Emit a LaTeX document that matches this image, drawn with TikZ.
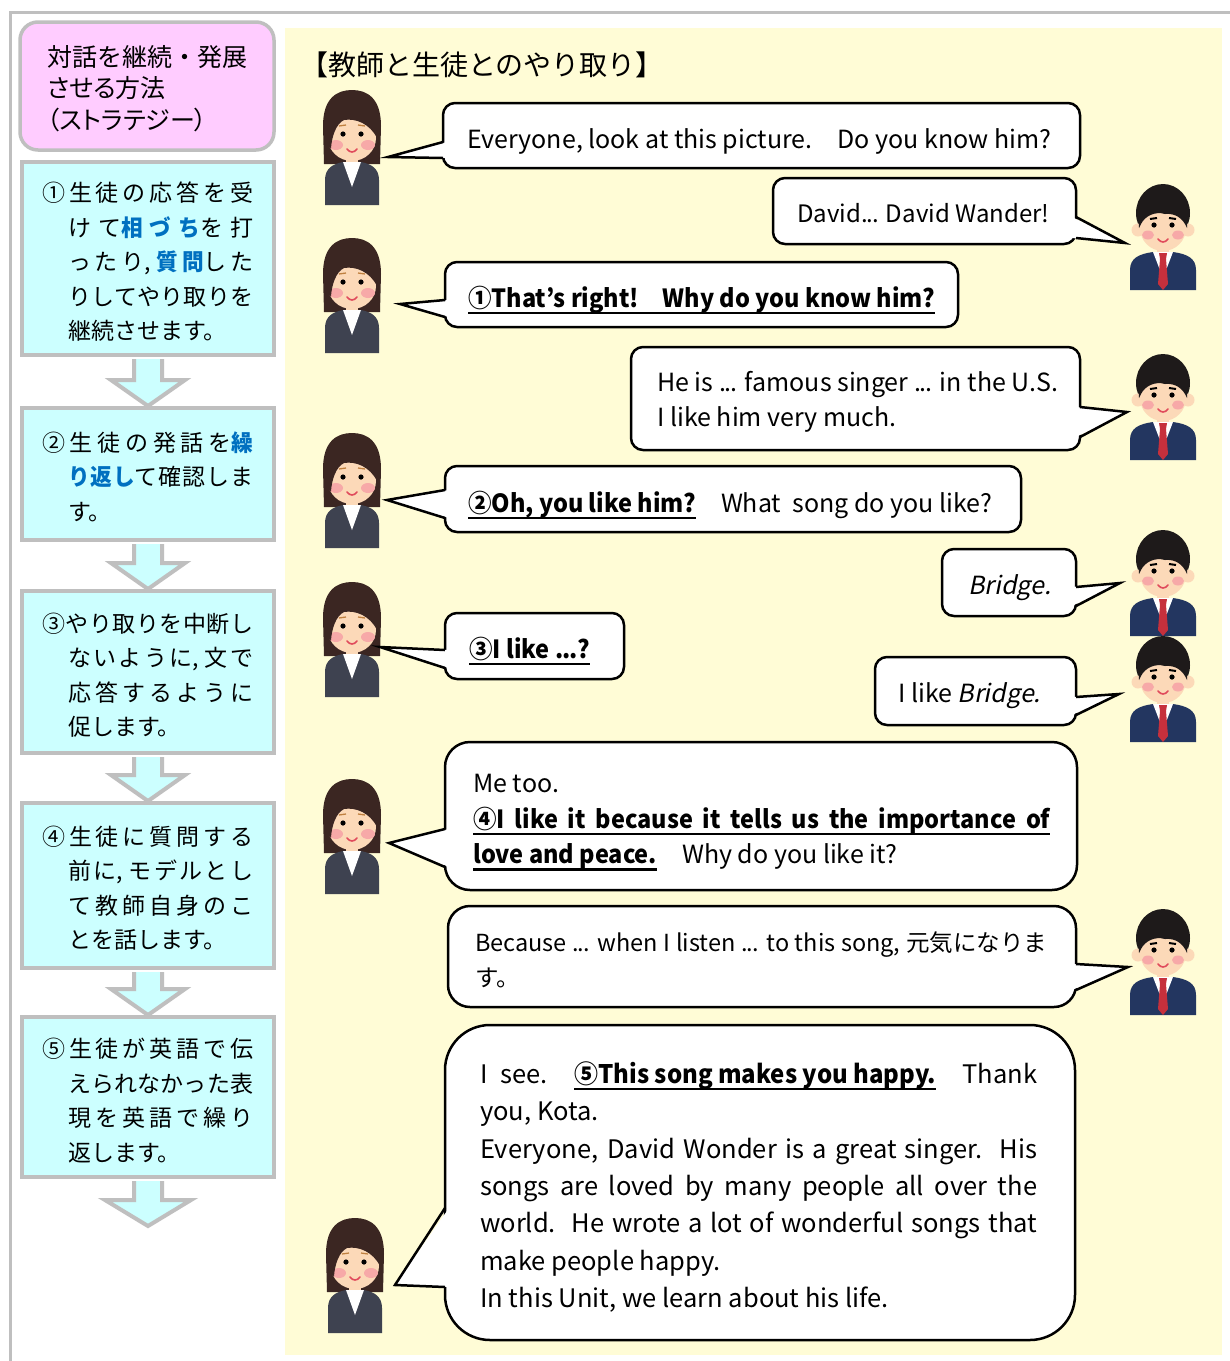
\documentclass[tikz,border=0pt]{standalone}
\usepackage{fontspec}
\setmainfont{Noto Sans CJK JP}[BoldFeatures={FakeStretch=0.94}]
\newfontfamily\headfont{Noto Sans CJK JP}[RawFeature=+palt]
\newfontfamily\slantfont{Noto Sans CJK JP}[FakeSlant=0.2]
\usepackage{xcolor}
\usetikzlibrary{calc,fit}

\definecolor{framegray}{HTML}{BFBFBF}
\definecolor{headpink}{HTML}{FFCCFF}
\definecolor{stepcyan}{HTML}{CCFFFF}
\definecolor{keyblue}{HTML}{0070C0}
\definecolor{paleyellow}{HTML}{FFFCD6}
\definecolor{skin}{HTML}{FCD9B8}
\definecolor{cheek}{HTML}{F7A9A8}
\definecolor{hairbrown}{HTML}{3B2622}
\definecolor{hairblack}{HTML}{1E1A1A}
\definecolor{suitgray}{HTML}{3E4250}
\definecolor{suitnavy}{HTML}{233660}
\definecolor{tiered}{HTML}{C6303C}
\definecolor{lipred}{HTML}{E04B5C}

\newsavebox{\ulbox}
\newcommand{\uln}[1]{\sbox{\ulbox}{#1}\rlap{\rule[-7pt]{\wd\ulbox}{2.2pt}}\usebox{\ulbox}}
\newcommand{\keyw}[1]{\textcolor{keyblue}{\bfseries #1}}
\newcommand{\tdots}{.\kern-1.2pt.\kern-1.2pt.}
\newcommand{\jajust}{\XeTeXlinebreaklocale "ja"\XeTeXlinebreakskip=0pt plus 10pt\relax}
\newcommand{\saytail}[4]{%
  \fill[white] ($(#1)+(#4)$) -- (#3) -- ($(#2)+(#4)$) -- cycle;
  \draw[tailline] (#1) -- (#3) -- (#2);}
\newcommand{\flowarrow}[3]{%
  \filldraw[flowarr] ($(#1)+(-14,2)$) -- ($(#2)+(-14,-26)$) -- ($(#2)+(-#3,-26)$) -- (#2)
    -- ($(#2)+(#3,-26)$) -- ($(#2)+(14,-26)$) -- ($(#1)+(14,2)$);}

\begin{document}
\begin{tikzpicture}[
  x=1pt, y=-1pt,
  frameline/.style={draw=framegray, line width=3pt},
  headbox/.style={draw=framegray, fill=headpink, line width=3.5pt, rounded corners=18pt, inner sep=0pt},
  stepbox/.style={draw=framegray, fill=stepcyan, line width=4pt, inner sep=0pt},
  flowarr/.style={draw=framegray, fill=stepcyan, line width=4pt, line join=miter},
  headtext/.style={anchor=west, align=left, inner sep=0pt, font=\fontsize{25}{31.5}\selectfont},
  steptext/.style={anchor=west, text width=211pt, align=justify, inner sep=0pt, font=\fontsize{23}{34.5}\selectfont\jajust},
  bubble/.style={draw=black, fill=white, line width=2.5pt, rounded corners=12pt, inner sep=0pt},
  tailline/.style={draw=black, line width=2.5pt, line join=miter},
  say/.style={anchor=west, align=left, inner sep=0pt, font=\fontsize{25}{35.5}\selectfont},
  teacher/.pic={
    \fill[hairbrown] (-28,24) -- (-29,-14) .. controls (-29,-42) and (-15,-50) .. (0,-50)
      .. controls (15,-50) and (29,-42) .. (29,-14) -- (28,24) -- cycle;
    \fill[skin] (-6,12) rectangle (6,26);
    \fill[suitgray] (-27,65) -- (-27,40) .. controls (-27,29) and (-20,24) .. (-9,22) -- (9,22)
      .. controls (20,24) and (27,29) .. (27,40) -- (27,65) -- cycle;
    \fill[white] (-9,22) -- (0,47) -- (9,22) -- cycle;
    \fill[skin] (0,-2) ellipse [x radius=24, y radius=23];
    \fill[cheek] (-16,5) ellipse [x radius=7, y radius=5];
    \fill[cheek] (16,5) ellipse [x radius=7, y radius=5];
    \fill[hairbrown] (-25,6) .. controls (-28,-30) and (-4,-38) .. (12,-32) .. controls (24,-27) and (27,-14) .. (25,-2)
      .. controls (18,-16) and (4,-22) .. (-8,-20) .. controls (-16,-16) and (-20,-4) .. (-21,8) -- cycle;
    \draw[brown, line width=1.3pt] (-13,-14) -- (-6,-15) (6,-15) -- (13,-14);
    \fill (-9,-6) circle (2.6);
    \fill (9,-6) circle (2.6);
    \draw[lipred, line width=1.6pt, line cap=round] (-5,9) .. controls (-2,13) and (2,13) .. (5,9);
  },
  student/.pic={
    \fill[hairblack] (0,-15) ellipse [x radius=27, y radius=29];
    \fill[skin] (-25,2) circle (6.5);
    \fill[skin] (25,2) circle (6.5);
    \fill[skin] (-6,14) rectangle (6,28);
    \fill[suitnavy] (-33,62) -- (-33,42) .. controls (-33,30) and (-24,26) .. (-10,24) -- (10,24)
      .. controls (24,26) and (33,30) .. (33,42) -- (33,62) -- cycle;
    \fill[white] (-10,24) -- (0,50) -- (10,24) -- cycle;
    \fill[tiered] (-4,25) -- (4,25) -- (3,31) -- (-3,31) -- cycle;
    \fill[tiered] (-3,31) -- (3,31) -- (5,56) -- (0,62) -- (-5,56) -- cycle;
    \fill[skin] (0,0) ellipse [x radius=23, y radius=23];
    \fill[cheek] (-15,7) ellipse [x radius=6, y radius=4.5];
    \fill[cheek] (15,7) ellipse [x radius=6, y radius=4.5];
    \fill[hairblack] (-24,0) .. controls (-27,-36) and (27,-36) .. (24,0) .. controls (20,-10) and (12,-15) .. (2,-14)
      .. controls (-8,-17) and (-18,-12) .. (-22,-4) -- cycle;
    \draw[line width=2pt] (-13,-9) -- (-6,-10) (6,-10) -- (13,-9);
    \fill (-9,-3) circle (2.6);
    \fill (9,-3) circle (2.6);
    \draw[lipred, line width=1.6pt, line cap=round] (-5,11) .. controls (-2,15) and (2,15) .. (5,11);
  }
]
\useasboundingbox (0,0) rectangle (1230,1361);
\fill[white] (0,0) rectangle (1230,1361);
\fill[paleyellow] (285,28) rectangle (1222,1355);
\draw[frameline] (10,1361) -- (10,12) -- (1230,12);

\node[headbox, fit={(20,22) (274,150)}] (head) {};
\node[headtext] (headtxt) at (47,88.5) {対話を継続・発展\\{\headfont させる方法}\\{\headfont （ストラテジー）}};

\node[stepbox, fit={(22,162) (274,355)}] (step1) {};
\node[stepbox, fit={(22,408) (274,540)}] (step2) {};
\node[stepbox, fit={(22,591) (274,753)}] (step3) {};
\node[stepbox, fit={(22,803) (274,968)}] (step4) {};
\node[stepbox, fit={(22,1017) (274,1177)}] (step5) {};
\coordinate (stepend) at (148,1226);
\flowarrow{step1.south}{step2.north}{37}
\flowarrow{step2.south}{step3.north}{37}
\flowarrow{step3.south}{step4.north}{37}
\flowarrow{step4.south}{step5.north}{37}
\flowarrow{step5.south}{stepend}{43}

\node[steptext] (txt1) at (42,262) {\hangindent=26pt\hangafter=1\noindent
  ①生徒の応答を受\linebreak けて\keyw{相づち}を打\linebreak ったり, \keyw{質問}した\linebreak りしてやり取りを\linebreak 継続させます。\par};
\node[steptext] (txt2) at (42,476.5) {\hangindent=26pt\hangafter=1\noindent
  ②生徒の発話を\keyw{繰}\linebreak \keyw{り返し}て確認しま\linebreak す。\par};
\node[steptext] (txt3) at (42,675) {\hangindent=26pt\hangafter=1\noindent
  ③やり取りを中断し\linebreak ないように, 文で\linebreak 応答するように\linebreak 促します。\par};
\node[steptext] (txt4) at (42,888) {\hangindent=26pt\hangafter=1\noindent
  ④生徒に質問する\linebreak 前に, モデルとし\linebreak て教師自身のこ\linebreak とを話します。\par};
\node[steptext] (txt5) at (42,1100.5) {\hangindent=26pt\hangafter=1\noindent
  ⑤生徒が英語で伝\linebreak えられなかった表\linebreak 現を英語で繰り\linebreak 返します。\par};

\node[anchor=west, inner sep=0pt, font=\fontsize{28}{28}\selectfont] (title) at (300,65) {【教師と生徒とのやり取り】};

\coordinate (tch1) at (352,140);
\coordinate (tch2) at (352,288);
\coordinate (tch3) at (352,483);
\coordinate (tch4) at (352,632);
\coordinate (tch5) at (352,829);
\coordinate (tch6) at (355,1268);
\coordinate (stu1) at (1163,228);
\coordinate (stu2) at (1163,398);
\coordinate (stu3) at (1163,574);
\coordinate (stu4) at (1163,680);
\coordinate (stu5) at (1163,953);
\foreach \p in {tch1,tch2,tch3,tch4,tch5,tch6} \pic at (\p) {teacher};
\foreach \p in {stu1,stu2,stu3,stu4,stu5} \pic at (\p) {student};

\node[bubble, fit={(443,103) (1080,168)}] (b1) {};
\saytail{443,142}{443,158}{388,157}{4,0}
\node[say] (w1) at (467,141) {Everyone, look at this picture.　Do you know him?};

\node[bubble, fit={(773,178) (1076,244)}] (b2) {};
\saytail{1076,217}{1076,238}{1125,243}{-4,0}
\node[say, font=\fontsize{24}{35}\selectfont] (w2) at (797,213) {David\tdots{} David Wander!};

\node[bubble, fit={(445,262) (958,327)}] (b3) {};
\saytail{445,300}{445,317}{400,304}{4,0}
\node[say] (w3) at (468,300) {\uln{\bfseries ①That's right!　Why do you know him?}};

\node[bubble, fit={(631,347) (1080,450)}] (b4) {};
\saytail{1080,407}{1080,437}{1127,412}{-4,0}
\node[say] (w4) at (657,402) {He is \tdots{} famous singer \tdots{} in the U.S.\\I like him very much.};

\node[bubble, fit={(445,466) (1021,532)}] (b5) {};
\saytail{445,490}{445,518}{387,500}{4,0}
\node[say] (w5) at (468,505) {\uln{\bfseries ②Oh, you like him?}　What\ \ song do you like?};

\node[bubble, fit={(942,549) (1076,616)}] (b6) {};
\saytail{1076,587}{1076,606}{1120,583}{-4,0}
\node[say] (w6) at (968,588) {{\slantfont Bridge.}};

\node[bubble, fit={(445,613) (624,679)}] (b7) {};
\saytail{445,650}{445,668}{380,647}{4,0}
\node[say] (w7) at (469,651) {\uln{\bfseries ③I like \tdots?}};

\node[bubble, fit={(875,657) (1076,725)}] (b8) {};
\saytail{1076,697}{1076,715}{1119,694}{-4,0}
\node[say] (w8) at (898,696) {I like {\slantfont Bridge.}};

\node[bubble, rounded corners=25pt, fit={(445,742) (1077,890)}] (b9) {};
\saytail{445,829}{445,867}{389,843}{4,0}
\node[say] (w9) at (473,822.5) {Me too.\\
  \uln{\makebox[577pt][s]{\bfseries ④I like it because it tells us the importance of}}\\
  \uln{\bfseries love and peace.}　Why do you like it?};

\node[bubble, rounded corners=22pt, fit={(448,906) (1076,1007)}] (b10) {};
\saytail{1076,964}{1076,990}{1128,967}{-4,0}
\node[say, font=\fontsize{23.5}{35}\selectfont] (w10) at (475,960) {\makebox[572pt][s]{Because \tdots{} when I listen \tdots{} to this song, 元気になりま}\\す。};

\node[bubble, rounded corners=45pt, fit={(445,1025) (1075,1340)}] (b11) {};
\saytail{445,1208}{445,1287}{395,1285}{4,0}
\node[say, font=\fontsize{25.5}{37.4}\selectfont] (w11) at (480,1187) {%
  \makebox[557pt][s]{I see.\ \ \uln{\bfseries ⑤This song makes you happy.}\ \ Thank}\\
  you, Kota.\\
  \makebox[557pt][s]{Everyone, David Wonder is a great singer.\ \ His}\\
  \makebox[557pt][s]{songs are loved by many people all over the}\\
  \makebox[557pt][s]{world.\ \ He wrote a lot of wonderful songs that}\\
  make people happy.\\
  In this Unit, we learn about his life.};
\end{tikzpicture}
\end{document}
